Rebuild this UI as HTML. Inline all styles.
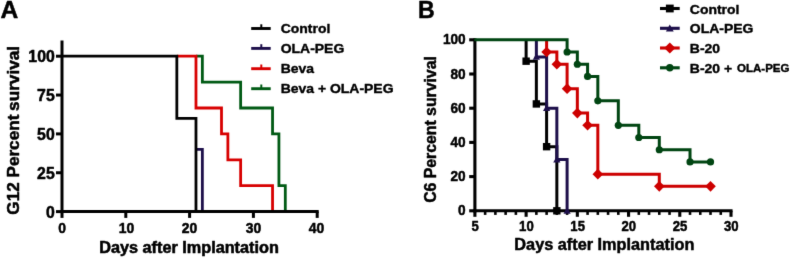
<!DOCTYPE html>
<html><head><meta charset="utf-8"><title>Survival</title>
<style>
html,body{margin:0;padding:0;background:#fff;}
body{width:790px;height:258px;overflow:hidden;}
svg{display:block;font-family:"Liberation Sans",sans-serif;font-weight:bold;}
</style></head><body>
<svg width="790" height="258" viewBox="0 0 790 258">
<defs><filter id="soft" color-interpolation-filters="sRGB" x="0" y="0" width="790" height="258" filterUnits="userSpaceOnUse"><feConvolveMatrix order="3" kernelMatrix="0.00741 0.07126 0.00741 0.07126 0.68530 0.07126 0.00741 0.07126 0.00741" divisor="1" bias="0" edgeMode="duplicate" preserveAlpha="false"/></filter></defs>
<rect width="790" height="258" fill="#fff"/>
<g filter="url(#soft)">
<path d="M195.98,56.20 L202.36,56.20 L202.36,82.11 L240.64,82.11 L240.64,107.99 L272.54,107.99 L272.54,133.90 L278.92,133.90 L278.92,185.69 L285.30,185.69 L285.30,211.60" fill="none" stroke="#005a14" stroke-width="2.8" stroke-linejoin="miter" stroke-linecap="butt"/>
<path d="M176.84,56.20 L195.98,56.20 L195.98,107.99 L221.50,107.99 L221.50,133.90 L227.88,133.90 L227.88,159.81 L240.64,159.81 L240.64,185.69 L272.54,185.69 L272.54,211.60" fill="none" stroke="#d80000" stroke-width="2.8" stroke-linejoin="miter" stroke-linecap="butt"/>
<path d="M195.98,149.44 L202.36,149.44 L202.36,211.60" fill="none" stroke="#1d0f4a" stroke-width="2.8" stroke-linejoin="miter" stroke-linecap="butt"/>
<path d="M62.00,56.20 L176.84,56.20 L176.84,118.36 L195.98,118.36 L195.98,211.60" fill="none" stroke="#000000" stroke-width="2.8" stroke-linejoin="miter" stroke-linecap="butt"/>
<path d="M62.00,40.50 L62.00,213.10" fill="none" stroke="#000000" stroke-width="3.0" stroke-linejoin="miter" stroke-linecap="butt"/>
<path d="M60.50,211.60 L318.70,211.60" fill="none" stroke="#000000" stroke-width="3.0" stroke-linejoin="miter" stroke-linecap="butt"/>
<path d="M56.00,211.60 L62.00,211.60" fill="none" stroke="#000000" stroke-width="3.0" stroke-linejoin="miter" stroke-linecap="butt"/>
<path d="M56.00,172.75 L62.00,172.75" fill="none" stroke="#000000" stroke-width="3.0" stroke-linejoin="miter" stroke-linecap="butt"/>
<path d="M56.00,133.90 L62.00,133.90" fill="none" stroke="#000000" stroke-width="3.0" stroke-linejoin="miter" stroke-linecap="butt"/>
<path d="M56.00,95.05 L62.00,95.05" fill="none" stroke="#000000" stroke-width="3.0" stroke-linejoin="miter" stroke-linecap="butt"/>
<path d="M56.00,56.20 L62.00,56.20" fill="none" stroke="#000000" stroke-width="3.0" stroke-linejoin="miter" stroke-linecap="butt"/>
<path d="M62.00,211.60 L62.00,217.90" fill="none" stroke="#000000" stroke-width="3.0" stroke-linejoin="miter" stroke-linecap="butt"/>
<path d="M125.80,211.60 L125.80,217.90" fill="none" stroke="#000000" stroke-width="3.0" stroke-linejoin="miter" stroke-linecap="butt"/>
<path d="M189.60,211.60 L189.60,217.90" fill="none" stroke="#000000" stroke-width="3.0" stroke-linejoin="miter" stroke-linecap="butt"/>
<path d="M253.40,211.60 L253.40,217.90" fill="none" stroke="#000000" stroke-width="3.0" stroke-linejoin="miter" stroke-linecap="butt"/>
<path d="M317.20,211.60 L317.20,217.90" fill="none" stroke="#000000" stroke-width="3.0" stroke-linejoin="miter" stroke-linecap="butt"/>
<text transform="translate(54.70,217.80)" font-size="15.8" text-anchor="end" fill="#000" stroke="#000" stroke-width="0.5" stroke-linejoin="round">0</text>
<text transform="translate(54.70,178.95)" font-size="15.8" text-anchor="end" fill="#000" stroke="#000" stroke-width="0.5" stroke-linejoin="round">25</text>
<text transform="translate(54.70,140.10)" font-size="15.8" text-anchor="end" fill="#000" stroke="#000" stroke-width="0.5" stroke-linejoin="round">50</text>
<text transform="translate(54.70,101.25)" font-size="15.8" text-anchor="end" fill="#000" stroke="#000" stroke-width="0.5" stroke-linejoin="round">75</text>
<text transform="translate(54.70,62.40)" font-size="15.8" text-anchor="end" fill="#000" stroke="#000" stroke-width="0.5" stroke-linejoin="round">100</text>
<text transform="translate(62.00,233.00) scale(0.96,1)" font-size="14.5" text-anchor="middle" fill="#000" stroke="#000" stroke-width="0.5" stroke-linejoin="round">0</text>
<text transform="translate(126.50,233.00) scale(0.96,1)" font-size="14.5" text-anchor="middle" fill="#000" stroke="#000" stroke-width="0.5" stroke-linejoin="round">10</text>
<text transform="translate(189.60,233.00) scale(0.96,1)" font-size="14.5" text-anchor="middle" fill="#000" stroke="#000" stroke-width="0.5" stroke-linejoin="round">20</text>
<text transform="translate(253.40,233.00) scale(0.96,1)" font-size="14.5" text-anchor="middle" fill="#000" stroke="#000" stroke-width="0.5" stroke-linejoin="round">30</text>
<text transform="translate(316.60,233.00) scale(0.96,1)" font-size="14.5" text-anchor="middle" fill="#000" stroke="#000" stroke-width="0.5" stroke-linejoin="round">40</text>
<text transform="translate(189.00,252.80) scale(1.042,1)" font-size="15.6" text-anchor="middle" fill="#000" stroke="#000" stroke-width="0.55" stroke-linejoin="round">Days after Implantation</text>
<text transform="translate(19.20,214.65) rotate(-90) scale(1.033,1)" font-size="16.6" text-anchor="start" fill="#000" stroke="#000" stroke-width="0.5" stroke-linejoin="round">G12 Percent</text>
<text transform="translate(19.20,45.90) rotate(-90) scale(1.036,1)" font-size="16.6" text-anchor="end" fill="#000" stroke="#000" stroke-width="0.5" stroke-linejoin="round">survival</text>
<text transform="translate(0.55,18.30)" font-size="24.6" text-anchor="start" fill="#000" stroke="#000" stroke-width="0.5" stroke-linejoin="round">A</text>
<path d="M251.20,28.50 L270.70,28.50" fill="none" stroke="#000000" stroke-width="2.9" stroke-linejoin="miter" stroke-linecap="butt"/>
<path d="M261.30,28.30 L261.30,24.30" fill="none" stroke="#000000" stroke-width="2.0" stroke-linejoin="miter" stroke-linecap="butt"/>
<text transform="translate(280.70,33.20) scale(1.035,1)" font-size="13.5" text-anchor="start" fill="#000" stroke="#000" stroke-width="0.4" stroke-linejoin="round">Control</text>
<path d="M251.20,48.40 L270.70,48.40" fill="none" stroke="#1d0f4a" stroke-width="2.9" stroke-linejoin="miter" stroke-linecap="butt"/>
<path d="M261.30,48.20 L261.30,44.20" fill="none" stroke="#1d0f4a" stroke-width="2.0" stroke-linejoin="miter" stroke-linecap="butt"/>
<text transform="translate(280.70,53.10) scale(1.035,1)" font-size="13.5" text-anchor="start" fill="#000" stroke="#000" stroke-width="0.4" stroke-linejoin="round">OLA-PEG</text>
<path d="M251.20,68.70 L270.70,68.70" fill="none" stroke="#d80000" stroke-width="2.9" stroke-linejoin="miter" stroke-linecap="butt"/>
<path d="M261.30,68.50 L261.30,64.50" fill="none" stroke="#d80000" stroke-width="2.0" stroke-linejoin="miter" stroke-linecap="butt"/>
<text transform="translate(280.70,73.40) scale(1.035,1)" font-size="13.5" text-anchor="start" fill="#000" stroke="#000" stroke-width="0.4" stroke-linejoin="round">Beva</text>
<path d="M251.20,88.70 L270.70,88.70" fill="none" stroke="#005a14" stroke-width="2.9" stroke-linejoin="miter" stroke-linecap="butt"/>
<path d="M261.30,88.50 L261.30,84.50" fill="none" stroke="#005a14" stroke-width="2.0" stroke-linejoin="miter" stroke-linecap="butt"/>
<text transform="translate(280.70,93.40) scale(1.035,1)" font-size="13.5" text-anchor="start" fill="#000" stroke="#000" stroke-width="0.4" stroke-linejoin="round">Beva + OLA-PEG</text>
<path d="M474.90,38.25 L474.90,212.35" fill="none" stroke="#000000" stroke-width="3.1" stroke-linejoin="miter" stroke-linecap="butt"/>
<path d="M473.35,210.80 L732.55,210.80" fill="none" stroke="#000000" stroke-width="3.1" stroke-linejoin="miter" stroke-linecap="butt"/>
<path d="M469.20,210.80 L474.90,210.80" fill="none" stroke="#000000" stroke-width="3.1" stroke-linejoin="miter" stroke-linecap="butt"/>
<path d="M469.20,176.60 L474.90,176.60" fill="none" stroke="#000000" stroke-width="3.1" stroke-linejoin="miter" stroke-linecap="butt"/>
<path d="M469.20,142.40 L474.90,142.40" fill="none" stroke="#000000" stroke-width="3.1" stroke-linejoin="miter" stroke-linecap="butt"/>
<path d="M469.20,108.20 L474.90,108.20" fill="none" stroke="#000000" stroke-width="3.1" stroke-linejoin="miter" stroke-linecap="butt"/>
<path d="M469.20,74.00 L474.90,74.00" fill="none" stroke="#000000" stroke-width="3.1" stroke-linejoin="miter" stroke-linecap="butt"/>
<path d="M469.20,39.80 L474.90,39.80" fill="none" stroke="#000000" stroke-width="3.1" stroke-linejoin="miter" stroke-linecap="butt"/>
<path d="M474.90,210.80 L474.90,216.80" fill="none" stroke="#000000" stroke-width="3.1" stroke-linejoin="miter" stroke-linecap="butt"/>
<path d="M485.14,210.80 L485.14,214.90" fill="none" stroke="#000000" stroke-width="2.6" stroke-linejoin="miter" stroke-linecap="butt"/>
<path d="M495.39,210.80 L495.39,214.90" fill="none" stroke="#000000" stroke-width="2.6" stroke-linejoin="miter" stroke-linecap="butt"/>
<path d="M505.63,210.80 L505.63,214.90" fill="none" stroke="#000000" stroke-width="2.6" stroke-linejoin="miter" stroke-linecap="butt"/>
<path d="M515.88,210.80 L515.88,214.90" fill="none" stroke="#000000" stroke-width="2.6" stroke-linejoin="miter" stroke-linecap="butt"/>
<path d="M526.12,210.80 L526.12,216.80" fill="none" stroke="#000000" stroke-width="3.1" stroke-linejoin="miter" stroke-linecap="butt"/>
<path d="M536.36,210.80 L536.36,214.90" fill="none" stroke="#000000" stroke-width="2.6" stroke-linejoin="miter" stroke-linecap="butt"/>
<path d="M546.61,210.80 L546.61,214.90" fill="none" stroke="#000000" stroke-width="2.6" stroke-linejoin="miter" stroke-linecap="butt"/>
<path d="M556.85,210.80 L556.85,214.90" fill="none" stroke="#000000" stroke-width="2.6" stroke-linejoin="miter" stroke-linecap="butt"/>
<path d="M567.10,210.80 L567.10,214.90" fill="none" stroke="#000000" stroke-width="2.6" stroke-linejoin="miter" stroke-linecap="butt"/>
<path d="M577.34,210.80 L577.34,216.80" fill="none" stroke="#000000" stroke-width="3.1" stroke-linejoin="miter" stroke-linecap="butt"/>
<path d="M587.58,210.80 L587.58,214.90" fill="none" stroke="#000000" stroke-width="2.6" stroke-linejoin="miter" stroke-linecap="butt"/>
<path d="M597.83,210.80 L597.83,214.90" fill="none" stroke="#000000" stroke-width="2.6" stroke-linejoin="miter" stroke-linecap="butt"/>
<path d="M608.07,210.80 L608.07,214.90" fill="none" stroke="#000000" stroke-width="2.6" stroke-linejoin="miter" stroke-linecap="butt"/>
<path d="M618.32,210.80 L618.32,214.90" fill="none" stroke="#000000" stroke-width="2.6" stroke-linejoin="miter" stroke-linecap="butt"/>
<path d="M628.56,210.80 L628.56,216.80" fill="none" stroke="#000000" stroke-width="3.1" stroke-linejoin="miter" stroke-linecap="butt"/>
<path d="M638.80,210.80 L638.80,214.90" fill="none" stroke="#000000" stroke-width="2.6" stroke-linejoin="miter" stroke-linecap="butt"/>
<path d="M649.05,210.80 L649.05,214.90" fill="none" stroke="#000000" stroke-width="2.6" stroke-linejoin="miter" stroke-linecap="butt"/>
<path d="M659.29,210.80 L659.29,214.90" fill="none" stroke="#000000" stroke-width="2.6" stroke-linejoin="miter" stroke-linecap="butt"/>
<path d="M669.54,210.80 L669.54,214.90" fill="none" stroke="#000000" stroke-width="2.6" stroke-linejoin="miter" stroke-linecap="butt"/>
<path d="M679.78,210.80 L679.78,216.80" fill="none" stroke="#000000" stroke-width="3.1" stroke-linejoin="miter" stroke-linecap="butt"/>
<path d="M690.02,210.80 L690.02,214.90" fill="none" stroke="#000000" stroke-width="2.6" stroke-linejoin="miter" stroke-linecap="butt"/>
<path d="M700.27,210.80 L700.27,214.90" fill="none" stroke="#000000" stroke-width="2.6" stroke-linejoin="miter" stroke-linecap="butt"/>
<path d="M710.51,210.80 L710.51,214.90" fill="none" stroke="#000000" stroke-width="2.6" stroke-linejoin="miter" stroke-linecap="butt"/>
<path d="M720.76,210.80 L720.76,214.90" fill="none" stroke="#000000" stroke-width="2.6" stroke-linejoin="miter" stroke-linecap="butt"/>
<path d="M731.00,210.80 L731.00,216.80" fill="none" stroke="#000000" stroke-width="3.1" stroke-linejoin="miter" stroke-linecap="butt"/>
<path d="M526.12,39.80 L526.12,39.80 L526.12,61.18 L536.36,61.18 L536.36,103.93 L546.61,103.93 L546.61,146.68 L556.85,146.68 L556.85,210.80" fill="none" stroke="#000000" stroke-width="3.0" stroke-linejoin="miter" stroke-linecap="butt"/>
<rect x="522.42" y="57.48" width="7.4" height="7.4" fill="#000000"/>
<rect x="532.66" y="100.23" width="7.4" height="7.4" fill="#000000"/>
<rect x="542.91" y="142.98" width="7.4" height="7.4" fill="#000000"/>
<rect x="553.15" y="207.10" width="7.4" height="7.4" fill="#000000"/>
<path d="M536.36,39.80 L536.36,39.80 L536.36,56.90 L546.61,56.90 L546.61,108.20 L556.85,108.20 L556.85,159.50 L567.10,159.50 L567.10,210.80" fill="none" stroke="#1d0f4a" stroke-width="3.0" stroke-linejoin="miter" stroke-linecap="butt"/>
<path d="M536.36,53.30 L539.96,59.78 L532.76,59.78Z" fill="#1d0f4a"/>
<path d="M546.61,104.60 L550.21,111.08 L543.01,111.08Z" fill="#1d0f4a"/>
<path d="M556.85,155.90 L560.45,162.38 L553.25,162.38Z" fill="#1d0f4a"/>
<path d="M567.10,207.20 L570.70,213.68 L563.50,213.68Z" fill="#1d0f4a"/>
<path d="M546.61,39.80 L546.61,39.80 L546.61,52.01 L556.85,52.01 L556.85,64.24 L567.10,64.24 L567.10,88.65 L577.34,88.65 L577.34,113.09 L587.58,113.09 L587.58,125.30 L597.83,125.30 L597.83,174.15 L659.29,174.15 L659.29,186.36 L710.51,186.36" fill="none" stroke="#cd0000" stroke-width="3.0" stroke-linejoin="miter" stroke-linecap="butt"/>
<path d="M546.61,46.71 L551.91,52.01 L546.61,57.31 L541.31,52.01Z" fill="#cd0000"/>
<path d="M556.85,58.94 L562.15,64.24 L556.85,69.54 L551.55,64.24Z" fill="#cd0000"/>
<path d="M567.10,83.35 L572.40,88.65 L567.10,93.95 L561.80,88.65Z" fill="#cd0000"/>
<path d="M577.34,107.79 L582.64,113.09 L577.34,118.39 L572.04,113.09Z" fill="#cd0000"/>
<path d="M587.58,120.00 L592.88,125.30 L587.58,130.60 L582.28,125.30Z" fill="#cd0000"/>
<path d="M597.83,168.85 L603.13,174.15 L597.83,179.45 L592.53,174.15Z" fill="#cd0000"/>
<path d="M659.29,181.06 L664.59,186.36 L659.29,191.66 L653.99,186.36Z" fill="#cd0000"/>
<path d="M710.51,181.06 L715.81,186.36 L710.51,191.66 L705.21,186.36Z" fill="#cd0000"/>
<path d="M474.30,39.80 L567.10,39.80 L567.10,52.01 L577.34,52.01 L577.34,64.24 L587.58,64.24 L587.58,76.45 L597.83,76.45 L597.83,100.86 L618.32,100.86 L618.32,125.30 L638.80,125.30 L638.80,137.51 L659.29,137.51 L659.29,149.74 L690.02,149.74 L690.02,161.95 L710.51,161.95" fill="none" stroke="#004512" stroke-width="3.0" stroke-linejoin="miter" stroke-linecap="butt"/>
<circle cx="567.10" cy="52.01" r="3.6" fill="#004512"/>
<circle cx="577.34" cy="64.24" r="3.6" fill="#004512"/>
<circle cx="587.58" cy="76.45" r="3.6" fill="#004512"/>
<circle cx="597.83" cy="100.86" r="3.6" fill="#004512"/>
<circle cx="618.32" cy="125.30" r="3.6" fill="#004512"/>
<circle cx="638.80" cy="137.51" r="3.6" fill="#004512"/>
<circle cx="659.29" cy="149.74" r="3.6" fill="#004512"/>
<circle cx="690.02" cy="161.95" r="3.6" fill="#004512"/>
<circle cx="710.51" cy="161.95" r="3.6" fill="#004512"/>
<text transform="translate(465.70,215.40) scale(0.92,1)" font-size="14.8" text-anchor="end" fill="#000" stroke="#000" stroke-width="0.5" stroke-linejoin="round">0</text>
<text transform="translate(465.70,181.20) scale(0.92,1)" font-size="14.8" text-anchor="end" fill="#000" stroke="#000" stroke-width="0.5" stroke-linejoin="round">20</text>
<text transform="translate(465.70,147.00) scale(0.92,1)" font-size="14.8" text-anchor="end" fill="#000" stroke="#000" stroke-width="0.5" stroke-linejoin="round">40</text>
<text transform="translate(465.70,112.80) scale(0.92,1)" font-size="14.8" text-anchor="end" fill="#000" stroke="#000" stroke-width="0.5" stroke-linejoin="round">60</text>
<text transform="translate(465.70,78.60) scale(0.92,1)" font-size="14.8" text-anchor="end" fill="#000" stroke="#000" stroke-width="0.5" stroke-linejoin="round">80</text>
<text transform="translate(465.70,44.40) scale(0.92,1)" font-size="14.8" text-anchor="end" fill="#000" stroke="#000" stroke-width="0.5" stroke-linejoin="round">100</text>
<text transform="translate(475.20,230.70) scale(0.905,1)" font-size="14.5" text-anchor="middle" fill="#000" stroke="#000" stroke-width="0.5" stroke-linejoin="round">5</text>
<text transform="translate(526.42,230.70) scale(0.905,1)" font-size="14.5" text-anchor="middle" fill="#000" stroke="#000" stroke-width="0.5" stroke-linejoin="round">10</text>
<text transform="translate(577.64,230.70) scale(0.905,1)" font-size="14.5" text-anchor="middle" fill="#000" stroke="#000" stroke-width="0.5" stroke-linejoin="round">15</text>
<text transform="translate(628.86,230.70) scale(0.905,1)" font-size="14.5" text-anchor="middle" fill="#000" stroke="#000" stroke-width="0.5" stroke-linejoin="round">20</text>
<text transform="translate(680.08,230.70) scale(0.905,1)" font-size="14.5" text-anchor="middle" fill="#000" stroke="#000" stroke-width="0.5" stroke-linejoin="round">25</text>
<text transform="translate(731.30,230.70) scale(0.905,1)" font-size="14.5" text-anchor="middle" fill="#000" stroke="#000" stroke-width="0.5" stroke-linejoin="round">30</text>
<text transform="translate(604.35,250.30)" font-size="16.3" text-anchor="middle" fill="#000" stroke="#000" stroke-width="0.5" stroke-linejoin="round">Days after Implantation</text>
<text transform="translate(435.80,129.50) rotate(-90) scale(0.97,1)" font-size="16.3" text-anchor="middle" fill="#000" stroke="#000" stroke-width="0.5" stroke-linejoin="round">C6 Percent survival</text>
<text transform="translate(417.95,18.30) scale(0.94,1)" font-size="24.6" text-anchor="start" fill="#000" stroke="#000" stroke-width="0.5" stroke-linejoin="round">B</text>
<path d="M660.00,8.50 L679.70,8.50" fill="none" stroke="#000000" stroke-width="3.1" stroke-linejoin="miter" stroke-linecap="butt"/>
<rect x="665.90" y="4.60" width="7.8" height="7.8" fill="#000000"/>
<text transform="translate(689.80,13.50) scale(1.035,1)" font-size="13.5" text-anchor="start" fill="#000" stroke="#000" stroke-width="0.4" stroke-linejoin="round">Control</text>
<path d="M660.00,28.30 L679.70,28.30" fill="none" stroke="#1d0f4a" stroke-width="3.1" stroke-linejoin="miter" stroke-linecap="butt"/>
<path d="M669.80,24.40 L673.70,31.42 L665.90,31.42Z" fill="#1d0f4a"/>
<text transform="translate(689.80,33.30) scale(1.035,1)" font-size="13.5" text-anchor="start" fill="#000" stroke="#000" stroke-width="0.4" stroke-linejoin="round">OLA-PEG</text>
<path d="M660.00,48.00 L679.70,48.00" fill="none" stroke="#cd0000" stroke-width="3.1" stroke-linejoin="miter" stroke-linecap="butt"/>
<path d="M669.80,42.40 L675.40,48.00 L669.80,53.60 L664.20,48.00Z" fill="#cd0000"/>
<text transform="translate(689.80,53.00) scale(1.035,1)" font-size="13.5" text-anchor="start" fill="#000" stroke="#000" stroke-width="0.4" stroke-linejoin="round">B-20</text>
<path d="M660.00,67.80 L679.70,67.80" fill="none" stroke="#004512" stroke-width="3.1" stroke-linejoin="miter" stroke-linecap="butt"/>
<circle cx="669.80" cy="67.80" r="3.7" fill="#004512"/>
<text transform="translate(689.80,72.80) scale(1.035,1)" font-size="13.5" text-anchor="start" fill="#000" stroke="#000" stroke-width="0.4" stroke-linejoin="round">B-20 +</text>
<text transform="translate(737.00,72.30) scale(1.03,1)" font-size="11.2" text-anchor="start" fill="#000" stroke="#000" stroke-width="0.4" stroke-linejoin="round">OLA-PEG</text>
</g>
</svg>
</body></html>
